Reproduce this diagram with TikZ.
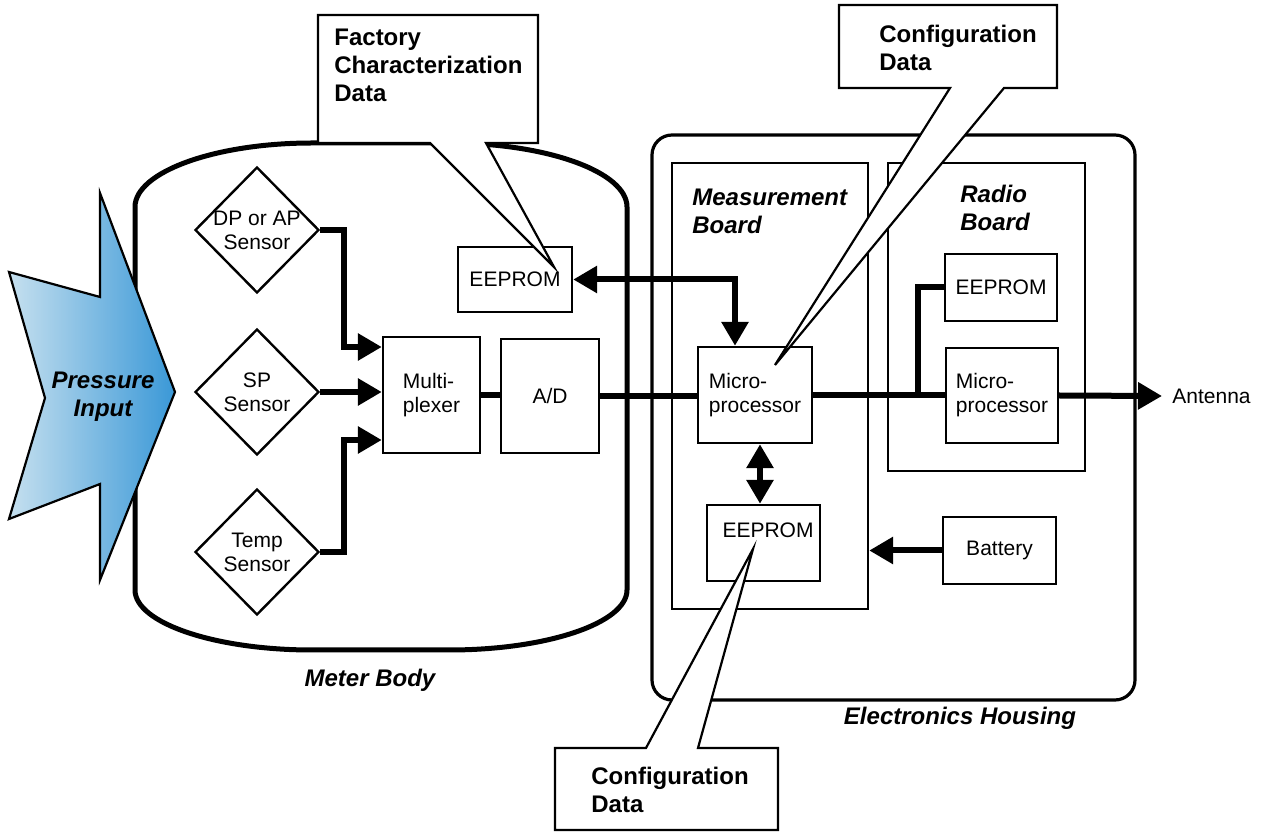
\documentclass[tikz,border=0pt]{standalone}
\usepackage{fontspec}
\setmainfont{Liberation Sans}
\usetikzlibrary{arrows.meta,shapes.geometric}
\definecolor{pinlight}{HTML}{C6E0EF}
\definecolor{pindark}{HTML}{3A98D7}
\newcommand\boxfont{\fontsize{10.5}{12}\selectfont}
\newcommand\headfont{\fontsize{12}{14}\selectfont\bfseries}

\begin{document}
\begin{tikzpicture}[x=0.5pt,y=-0.5pt,
  >={Triangle[length=12pt,width=13pt]},
  box/.style={draw,line width=1.2pt,inner sep=0pt,font=\boxfont,align=center},
  sensor/.style={diamond,draw,line width=1.2pt,minimum width=62pt,minimum height=63pt,inner sep=0pt,
    label={[font=\boxfont,align=center]center:#1}},
  board/.style={draw,line width=1.2pt,inner sep=0pt},
  wire/.style={line width=3pt},
  callout/.style={draw,fill=white,line width=1.1pt},
  head/.style={font=\headfont,align=left,inner sep=0pt},
  title/.style={font=\headfont\itshape,inner sep=0pt}]
\useasboundingbox (0,0) rectangle (1264,833);

% meter body
\draw[line width=2.5pt] (135,590) -- (135,207) .. controls (135,172) and (215,143) .. (312,143)
  -- (449,143) .. controls (547,143) and (627,172) .. (627,207) -- (627,590)
  .. controls (627,623) and (547,650) .. (449,650) -- (312,650)
  .. controls (215,650) and (135,623) .. cycle;
\node[title] (mbody) at (370,680) {Meter Body};

% pressure input
\shadedraw[left color=pinlight,right color=pindark,draw=black,line width=1.1pt]
  (9,272) -- (100,297) -- (100,193) -- (175,392) -- (100,580) -- (100,484)
  -- (9,519) -- (45,398) -- cycle;
\node[title,align=center] (pin) at (103,397) {Pressure\\Input};

\node[sensor={DP or AP\\Sensor}] (dp) at (257,230) {};
\node[sensor={SP\\Sensor}] (sp) at (257,392) {};
\node[sensor={Temp\\Sensor}] (tmp) at (257,552) {};
\node[box,align=left,minimum width=48.5pt,minimum height=58pt] (mux) at (431.5,395) {Multi-\\plexer};
\node[box,minimum width=49pt,minimum height=57pt] (ad) at (550,396) {A/D};
\node[box,minimum width=57pt,minimum height=32.5pt] (eepf) at (515,279.5) {EEPROM};

% electronics housing
\node[board,rounded corners=10pt,line width=1.6pt,minimum width=241.5pt,minimum height=282.5pt] (hsg) at (893.5,417.5) {};
\node[title] (hsgl) at (960,718) {Electronics Housing};
\node[board,minimum width=98pt,minimum height=223pt] (mb) at (770,386) {};
\node[head,font=\headfont\itshape,anchor=west] (mbl) at (692,211) {Measurement\\Board};
\node[board,minimum width=98.5pt,minimum height=154pt] (rb) at (986.5,317) {};
\node[head,font=\headfont\itshape,anchor=west] (rbl) at (960,208) {Radio\\Board};

\node[box,align=left,minimum width=57pt,minimum height=48pt] (mpm) at (755,395) {Micro-\\processor};
\node[box,minimum width=56.5pt,minimum height=38pt] (eepm) at (763.5,543) {};
\node[font=\boxfont,inner sep=0pt] (eepmt) at (768,530) {EEPROM};
\node[box,minimum width=56pt,minimum height=33.5pt] (eepr) at (1001,287.5) {EEPROM};
\node[box,align=left,minimum width=56pt,minimum height=47.5pt] (mpr) at (1002,395.5) {Micro-\\processor};
\node[box,minimum width=56.5pt,minimum height=33.5pt] (bat) at (999.5,550.5) {Battery};
\node[font=\boxfont,anchor=west,inner sep=0pt] (ant) at (1172,396) {Antenna};
\coordinate (jn) at (918,395);

% wiring
\draw[wire,->] (dp.east) -- ++(24,0) |- ([yshift=24pt]mux.west);
\draw[wire,->] (sp.east) -- (sp.east -| mux.west);
\draw[wire,->] (tmp.east) -- ++(24,0) |- ([yshift=-22.5pt]mux.west);
\draw[wire] (mux.east) -- (mux.east -| ad.west);
\draw[wire] (ad.east) -- (ad.east -| mpm.west);
\draw[wire,<->] (eepf.east) -| ([xshift=-10pt]mpm.north);
\draw[wire,<->] ([xshift=2.5pt]mpm.south) -- ([xshift=-1.75pt]eepm.north);
\draw[wire] (mpm.east) -- (mpm.east -| mpr.west);
\draw[wire] (jn) |- (eepr.west);
\draw[wire,->] (mpr.east) -- ([xshift=-5pt]ant.west);
\draw[wire,->] (bat.west) -- (bat.west -| mb.east);

% callouts
\coordinate (facp) at (554,267);
\coordinate (cfgtp) at (775,365);
\coordinate (cfgbp) at (753,549);
\draw[callout] (318,15) -- (538,15) -- (538,143) -- (486,143) -- (facp) -- (430,143) -- (318,143) -- cycle;
\node[head,anchor=west] (fac) at (334,65) {Factory\\Characterization\\Data};
\draw[callout] (839,5) -- (1057,5) -- (1057,88) -- (1004,88) -- (cfgtp) -- (950,88) -- (839,88) -- cycle;
\node[head,anchor=west] (cfgt) at (879,47.5) {Configuration\\Data};
\draw[callout] (555,748) -- (646,748) -- (cfgbp) -- (698,748) -- (778,748) -- (778,830) -- (555,830) -- cycle;
\node[head,anchor=west] (cfgb) at (591,789.5) {Configuration\\Data};
\end{tikzpicture}
\end{document}
